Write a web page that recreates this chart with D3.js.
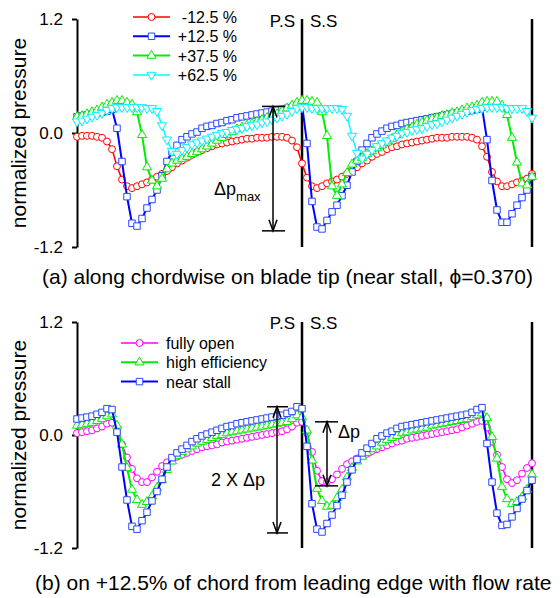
<!DOCTYPE html>
<html>
<head>
<meta charset="utf-8">
<script src="https://cdn.jsdelivr.net/npm/d3@7/dist/d3.min.js"></script>
<style>
  body { margin: 0; background: #fff; }
  svg { font-family: 'Liberation Sans', Arial, sans-serif; }
</style>
</head>
<body>
<svg id="chart" width="560" height="598"></svg>
<script>
// measurement stations across the blade passages (index of the probe)
const stations = d3.range(92)
const yTicks = [-1.2, 0.0, 1.2]

// (a) pressure on blade tip, near stall, per chordwise position
const tipMinus125 = [
  -0.04, -0.03, -0.03, -0.03, -0.04, -0.05, -0.09, -0.17, -0.35, -0.49,
  -0.56, -0.58, -0.56, -0.54, -0.52, -0.49, -0.46, -0.43, -0.40, -0.36,
  -0.32, -0.29, -0.26, -0.23, -0.20, -0.18, -0.16, -0.14, -0.12, -0.11,
  -0.10, -0.09, -0.08, -0.07, -0.06, -0.06, -0.05, -0.05, -0.05, -0.04,
  -0.04, -0.04, -0.05, -0.08, -0.15, -0.32, -0.47, -0.56, -0.58, -0.56,
  -0.53, -0.51, -0.49, -0.46, -0.43, -0.39, -0.36, -0.32, -0.29, -0.25,
  -0.22, -0.20, -0.17, -0.15, -0.14, -0.12, -0.11, -0.10, -0.09, -0.08,
  -0.07, -0.06, -0.05, -0.05, -0.05, -0.04, -0.04, -0.04, -0.04, -0.05,
  -0.07, -0.14, -0.25, -0.41, -0.51, -0.56, -0.56, -0.54, -0.52, -0.50,
  -0.48, -0.43
]
const tipPlus125 = [
  0.17, 0.18, 0.19, 0.20, 0.21, 0.22, 0.23, 0.25, 0.05, -0.30,
  -0.67, -0.95, -0.98, -0.90, -0.79, -0.70, -0.60, -0.45, -0.30, -0.20,
  -0.13, -0.07, -0.04, -0.01, 0.01, 0.05, 0.07, 0.08, 0.10, 0.11,
  0.13, 0.14, 0.16, 0.17, 0.18, 0.19, 0.20, 0.21, 0.22, 0.23,
  0.24, 0.25, 0.26, 0.27, 0.28, 0.30, -0.11, -0.72, -0.99, -1.01,
  -0.92, -0.83, -0.76, -0.66, -0.55, -0.41, -0.30, -0.18, -0.11, -0.05,
  -0.01, 0.02, 0.05, 0.07, 0.08, 0.10, 0.11, 0.12, 0.13, 0.14,
  0.15, 0.16, 0.17, 0.18, 0.19, 0.20, 0.21, 0.22, 0.23, 0.24,
  0.25, 0.27, -0.07, -0.50, -0.81, -0.94, -0.94, -0.85, -0.76, -0.68,
  -0.60, -0.46
]
const tipPlus375 = [
  0.17, 0.18, 0.20, 0.22, 0.24, 0.27, 0.30, 0.32, 0.34, 0.34,
  0.32, 0.30, 0.22, -0.02, -0.36, -0.50, -0.56, -0.48, -0.38, -0.32,
  -0.29, -0.27, -0.25, -0.22, -0.20, -0.17, -0.14, -0.11, -0.08, -0.05,
  -0.02, 0.01, 0.04, 0.06, 0.08, 0.10, 0.12, 0.14, 0.16, 0.18,
  0.20, 0.23, 0.26, 0.29, 0.32, 0.34, 0.34, 0.33, 0.32, 0.22,
  -0.03, -0.56, -0.66, -0.54, -0.42, -0.33, -0.29, -0.26, -0.22, -0.19,
  -0.16, -0.13, -0.10, -0.06, -0.02, 0.01, 0.04, 0.06, 0.09, 0.11,
  0.13, 0.15, 0.16, 0.18, 0.19, 0.21, 0.22, 0.24, 0.26, 0.27,
  0.29, 0.32, 0.33, 0.33, 0.33, 0.29, 0.19, -0.05, -0.31, -0.53,
  -0.55, -0.46
]
const tipPlus625 = [
  0.12, 0.13, 0.15, 0.17, 0.19, 0.21, 0.24, 0.26, 0.27, 0.27,
  0.27, 0.27, 0.27, 0.27, 0.26, 0.26, 0.23, 0.08, -0.07, -0.19,
  -0.22, -0.18, -0.15, -0.12, -0.10, -0.08, -0.06, -0.04, -0.02, 0.00,
  0.01, 0.03, 0.04, 0.05, 0.07, 0.08, 0.09, 0.11, 0.12, 0.14,
  0.16, 0.18, 0.20, 0.23, 0.26, 0.27, 0.27, 0.26, 0.26, 0.26,
  0.26, 0.26, 0.26, 0.25, 0.18, -0.03, -0.21, -0.27, -0.22, -0.18,
  -0.14, -0.11, -0.08, -0.05, -0.03, 0.00, 0.01, 0.03, 0.04, 0.05,
  0.07, 0.09, 0.10, 0.12, 0.14, 0.16, 0.18, 0.20, 0.22, 0.24,
  0.25, 0.26, 0.27, 0.27, 0.27, 0.27, 0.26, 0.26, 0.26, 0.26,
  0.23, 0.16
]

// (b) pressure at +12.5% chord for three flow rates
const flowFullyOpen = [
  0.02, 0.03, 0.04, 0.05, 0.07, 0.09, 0.12, 0.13, 0.03, -0.10,
  -0.24, -0.36, -0.46, -0.50, -0.50, -0.45, -0.39, -0.33, -0.29, -0.26,
  -0.23, -0.21, -0.19, -0.17, -0.15, -0.13, -0.12, -0.11, -0.10, -0.08,
  -0.07, -0.06, -0.05, -0.04, -0.03, -0.02, -0.01, 0.00, 0.01, 0.02,
  0.03, 0.04, 0.06, 0.09, 0.13, 0.14, 0.02, -0.18, -0.38, -0.49,
  -0.50, -0.47, -0.42, -0.36, -0.31, -0.28, -0.25, -0.22, -0.20, -0.17,
  -0.15, -0.13, -0.11, -0.09, -0.07, -0.06, -0.04, -0.03, -0.02, -0.01,
  0.00, 0.01, 0.02, 0.03, 0.04, 0.05, 0.06, 0.08, 0.10, 0.12,
  0.14, 0.15, 0.08, -0.07, -0.21, -0.34, -0.47, -0.51, -0.48, -0.41,
  -0.35, -0.30
]
const flowHighEff = [
  0.10, 0.11, 0.12, 0.13, 0.15, 0.17, 0.20, 0.22, 0.10, -0.10,
  -0.35, -0.58, -0.69, -0.74, -0.71, -0.65, -0.56, -0.48, -0.37, -0.28,
  -0.22, -0.18, -0.15, -0.12, -0.09, -0.07, -0.05, -0.03, -0.01, 0.00,
  0.02, 0.03, 0.04, 0.05, 0.06, 0.07, 0.08, 0.09, 0.10, 0.11,
  0.12, 0.13, 0.14, 0.17, 0.21, 0.19, 0.05, -0.27, -0.57, -0.70,
  -0.76, -0.75, -0.67, -0.58, -0.45, -0.35, -0.28, -0.23, -0.19, -0.15,
  -0.12, -0.08, -0.05, -0.03, -0.01, 0.02, 0.03, 0.05, 0.06, 0.07,
  0.08, 0.10, 0.11, 0.12, 0.13, 0.14, 0.15, 0.16, 0.17, 0.19,
  0.21, 0.23, 0.18, -0.02, -0.25, -0.55, -0.68, -0.73, -0.71, -0.66,
  -0.58, -0.42
]
const flowNearStall = [
  0.17, 0.18, 0.19, 0.20, 0.22, 0.24, 0.28, 0.27, 0.03, -0.34,
  -0.69, -0.97, -1.00, -0.91, -0.82, -0.70, -0.60, -0.47, -0.34, -0.24,
  -0.19, -0.15, -0.11, -0.07, -0.04, -0.01, 0.01, 0.03, 0.05, 0.07,
  0.09, 0.10, 0.12, 0.13, 0.14, 0.15, 0.16, 0.17, 0.18, 0.19,
  0.20, 0.21, 0.23, 0.25, 0.30, 0.28, -0.12, -0.73, -1.00, -1.03,
  -0.94, -0.85, -0.75, -0.64, -0.50, -0.37, -0.26, -0.19, -0.14, -0.09,
  -0.04, -0.01, 0.02, 0.04, 0.07, 0.09, 0.10, 0.11, 0.12, 0.13,
  0.14, 0.15, 0.16, 0.17, 0.18, 0.19, 0.20, 0.21, 0.22, 0.24,
  0.27, 0.29, -0.09, -0.50, -0.83, -0.96, -0.95, -0.87, -0.78, -0.68,
  -0.59, -0.48
]

const svg = d3.select('#chart')
const x = d3.scaleLinear().domain([0, stations.length - 1]).range([77, 532])

/**
 * Draws the left axis, the blade lines and the P.S / S.S marks of a panel.
 *
 * @param {*} g The d3 Selection of the panel's g SVG element
 * @param {*} y The y scale of the panel
 * @param {number} textY Baseline of the P.S / S.S labels
 */
function drawFrame (g, y, textY) {
  const axis = g.append('g')
    .attr('transform', 'translate(' + x(0) + ', 0)')
    .call(d3.axisLeft(y).tickValues(yTicks).tickSize(5).tickSizeOuter(0)
      .tickPadding(9).tickFormat(d => d.toFixed(1)))
  axis.select('.domain').attr('stroke', '#000').attr('stroke-width', 2)
  axis.selectAll('.tick line').attr('stroke', '#000').attr('stroke-width', 2)
  axis.selectAll('.tick text')
    .attr('font-size', 17)
    .attr('fill', '#000')
    .attr('font-family', "'Liberation Sans', Arial, sans-serif")

  // blade positions
  ;[45, 91].forEach(i => {
    g.append('line')
      .attr('x1', x(i)).attr('x2', x(i))
      .attr('y1', y(1.2)).attr('y2', y(-1.2))
      .attr('stroke', '#000')
      .attr('stroke-width', 2.5)
  })

  g.append('text').text('P.S')
    .attr('x', x(45) - 7).attr('y', textY)
    .attr('text-anchor', 'end').attr('font-size', 17)
  g.append('text').text('S.S')
    .attr('x', x(45) + 8).attr('y', textY)
    .attr('font-size', 17)

  g.append('text').text('normalized pressure')
    .attr('transform', 'translate(26, ' + y(0) + ') rotate(-90)')
    .attr('text-anchor', 'middle')
    .attr('font-size', 21)
}

/**
 * Draws one series as a line with hollow markers.
 *
 * @param {*} g The d3 Selection of the panel's g SVG element
 * @param {*} y The y scale of the panel
 * @param {number[]} values The series values, one per station
 * @param {object} s The style of the series
 */
function drawSeries (g, y, values, s) {
  const line = d3.line().x((d, i) => x(stations[i])).y(d => y(d))
  g.append('path')
    .datum(values)
    .attr('d', line)
    .attr('fill', 'none')
    .attr('stroke', s.color)
    .attr('stroke-width', s.width)

  g.selectAll(null)
    .data(values)
    .join('path')
    .attr('transform', (d, i) => 'translate(' + x(stations[i]) + ',' + y(d) + ') rotate(' + s.rotate + ')')
    .attr('d', d3.symbol(s.symbol, s.size)())
    .attr('fill', '#fff')
    .attr('stroke', s.markerColor)
    .attr('stroke-width', 1)
}

/**
 * Draws the legend of a panel.
 *
 * @param {*} g The d3 Selection of the panel's g SVG element
 * @param {object[]} items The series styles with their labels
 * @param {number} x0 Left of the legend lines
 * @param {number} y0 Center of the first row
 * @param {number} textX Position of the labels
 * @param {string} anchor Text anchor of the labels
 */
function drawLegend (g, items, x0, y0, textX, anchor) {
  items.forEach((s, k) => {
    const cy = y0 + k * 19.3
    g.append('line')
      .attr('x1', x0).attr('x2', x0 + 37)
      .attr('y1', cy).attr('y2', cy)
      .attr('stroke', s.color).attr('stroke-width', s.width)
    g.append('path')
      .attr('transform', 'translate(' + (x0 + 18.5) + ',' + cy + ') rotate(' + s.rotate + ')')
      .attr('d', d3.symbol(s.symbol, s.size)())
      .attr('fill', '#fff').attr('stroke', s.markerColor).attr('stroke-width', 1)
    g.append('text').text(s.label)
      .attr('x', textX).attr('y', cy + 6)
      .attr('text-anchor', anchor)
      .attr('font-size', 16)
  })
}

/**
 * Draws a vertical double arrow between two horizontal bars.
 *
 * @param {*} g The d3 Selection of the panel's g SVG element
 * @param {number} ax Position of the arrow
 * @param {number} y1 Top of the arrow
 * @param {number} y2 Bottom of the arrow
 * @param {number} bx1 Left of the bars
 * @param {number} bx2 Right of the bars
 */
function drawDoubleArrow (g, ax, y1, y2, bx1, bx2) {
  const a = g.append('g').attr('stroke', '#000').attr('fill', 'none').attr('stroke-width', 1.5)
  a.append('line').attr('x1', ax).attr('x2', ax).attr('y1', y1).attr('y2', y2)
  a.append('line').attr('x1', bx1).attr('x2', bx2).attr('y1', y1).attr('y2', y1)
  a.append('line').attr('x1', bx1).attr('x2', bx2).attr('y1', y2).attr('y2', y2)
  a.append('path').attr('d', 'M' + (ax - 4) + ',' + (y1 + 11) + 'L' + ax + ',' + y1 + 'L' + (ax + 4) + ',' + (y1 + 11))
  a.append('path').attr('d', 'M' + (ax - 4) + ',' + (y2 - 11) + 'L' + ax + ',' + y2 + 'L' + (ax + 4) + ',' + (y2 - 11))
}

const styles = {
  red: { color: '#ff0000', markerColor: '#ff0000', width: 1.5, symbol: d3.symbolCircle, size: 38, rotate: 0 },
  blue: { color: '#0000ff', markerColor: '#2848ff', width: 2, symbol: d3.symbolSquare, size: 42, rotate: 0 },
  green: { color: '#00ee00', markerColor: '#00ee00', width: 2, symbol: d3.symbolTriangle, size: 36, rotate: 0 },
  cyan: { color: '#00ffff', markerColor: '#00f0ff', width: 1.5, symbol: d3.symbolTriangle, size: 36, rotate: 180 },
  magenta: { color: '#ff00ff', markerColor: '#ff00ff', width: 1.5, symbol: d3.symbolCircle, size: 38, rotate: 0 }
}

// panel (a)
const yTop = d3.scaleLinear().domain([-1.2, 1.2]).range([247, 19])
const gTop = svg.append('g')
drawFrame(gTop, yTop, 27)
drawSeries(gTop, yTop, tipMinus125, styles.red)
drawSeries(gTop, yTop, tipPlus125, styles.blue)
drawSeries(gTop, yTop, tipPlus375, styles.green)
drawSeries(gTop, yTop, tipPlus625, styles.cyan)
drawLegend(gTop, [
  Object.assign({ label: '-12.5 %' }, styles.red),
  Object.assign({ label: '+12.5 %' }, styles.blue),
  Object.assign({ label: '+37.5 %' }, styles.green),
  Object.assign({ label: '+62.5 %' }, styles.cyan)
], 133, 17, 237, 'end')
drawDoubleArrow(gTop, x(39.2), yTop(0.28), yTop(-1.03), x(37), x(41.6))
const dpMax = gTop.append('text').attr('x', 214).attr('y', 195).attr('font-size', 18)
dpMax.append('tspan').text('\u0394p')
dpMax.append('tspan').text('max').attr('font-size', 13).attr('dy', 6)
gTop.append('text')
  .text('(a) along chordwise on blade tip (near stall, \u03d5=0.370)')
  .attr('x', 42).attr('y', 284).attr('font-size', 21)

// panel (b)
const yBot = d3.scaleLinear().domain([-1.2, 1.2]).range([548, 322])
const gBot = svg.append('g')
drawFrame(gBot, yBot, 329)
drawSeries(gBot, yBot, flowFullyOpen, styles.magenta)
drawSeries(gBot, yBot, flowHighEff, styles.green)
drawSeries(gBot, yBot, flowNearStall, styles.blue)
drawLegend(gBot, [
  Object.assign({ label: 'fully open' }, styles.magenta),
  Object.assign({ label: 'high efficiency' }, styles.green),
  Object.assign({ label: 'near stall' }, styles.blue)
], 121, 343, 166, 'start')
drawDoubleArrow(gBot, x(40), yBot(0.30), yBot(-1.04), x(38), x(42.2))
drawDoubleArrow(gBot, x(50), yBot(0.14), yBot(-0.54), x(47.6), x(52.2))
gBot.append('text').text('2 X \u0394p').attr('x', 211).attr('y', 486).attr('font-size', 18)
gBot.append('text').text('\u0394p').attr('x', 338).attr('y', 438).attr('font-size', 18)
gBot.append('text')
  .text('(b) on +12.5% of chord from leading edge with flow rate')
  .attr('x', 35).attr('y', 590).attr('font-size', 21)
</script>
</body>
</html>
